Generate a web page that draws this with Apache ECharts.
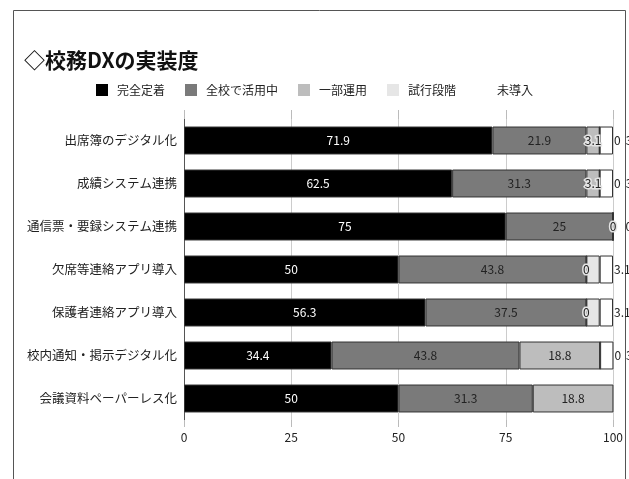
<!DOCTYPE html>
<html>
<head>
<meta charset="utf-8">
<script src="https://cdn.jsdelivr.net/npm/echarts@6/dist/echarts.min.js"></script>
<style>html,body{margin:0;padding:0;background:#fff;}#c{width:629px;height:479px;}</style>
</head>
<body>
<div id="c"></div>
<script>
const categories = ['出席簿のデジタル化','成績システム連携','通信票・要録システム連携','欠席等連絡アプリ導入','保護者連絡アプリ導入','校内通知・掲示デジタル化','会議資料ペーパーレス化'];
const seriesNames = ['完全定着','全校で活用中','一部運用','試行段階','未導入'];
const kanzen = [71.9, 62.5, 75, 50, 56.3, 34.4, 50];
const zenkou = [21.9, 31.3, 25, 43.8, 37.5, 43.8, 31.3];
const ichibu = [3.1, 3.1, 0, 0, 0, 18.8, 18.8];
const shikou = [0, 0, 0, 3.1, 3.1, 0, 0];
const midounyu = [3.1, 3.1, 0, 3.1, 3.1, 3.1, 0];
const xTicks = [0, 25, 50, 75, 100];
const colors = ['#000000', '#7a7a7a', '#bdbdbd', '#e6e6e6', '#ffffff'];

const FONT = 'Noto Sans CJK JP';
const values = [kanzen, zenkou, ichibu, shikou, midounyu];

function makeSeries(i) {
  const base = {
    name: seriesNames[i],
    type: 'bar',
    stack: 'total',
    barWidth: '65%',
    itemStyle: { color: colors[i], borderColor: '#333', borderWidth: 1 },
    emphasis: { disabled: true },
    data: values[i].slice()
  };
  if (i < 3) {
    base.data = values[i].map(v => {
      const small = v < 5;
      return {
        value: v,
        label: small ? { textBorderColor: '#e4e4e4', textBorderWidth: 3 } : {}
      };
    });
    base.label = {
      show: true, position: 'inside', fontSize: 12, fontFamily: FONT,
      color: i === 0 ? '#fff' : '#222'
    };
  } else if (i === 3) {
    base.label = { show: false };
  } else {
    base.label = {
      show: true, position: 'right', distance: 1, fontSize: 12, fontFamily: FONT, color: '#222',
      formatter: p => {
        const idx = p.dataIndex;
        if (midounyu[idx] > 0) return '{a|' + shikou[idx] + '}{g|}{b|' + midounyu[idx] + '}';
        return '{s|}{b|' + midounyu[idx] + '}';
      },
      rich: {
        a: { fontSize: 12, fontFamily: FONT, color: '#222' },
        b: { fontSize: 12, fontFamily: FONT, color: '#222' },
        g: { width: 5 },
        s: { width: 11 }
      }
    };
  }
  return base;
}

const chart = echarts.init(document.getElementById('c'), null, { renderer: 'canvas' });
chart.setOption({
  animation: false,
  backgroundColor: '#fff',
  graphic: [{
    type: 'rect', left: 11, top: 8, z: -10,
    shape: { width: 612, height: 520 },
    style: { fill: 'none', stroke: '#555', lineWidth: 1 }
  }],
  title: {
    text: '◇校務DXの実装度', left: 19, top: 45,
    textStyle: { fontSize: 21, fontWeight: 'bold', color: '#111', fontFamily: FONT }
  },
  legend: {
    top: 79, left: 'center', itemWidth: 12, itemHeight: 12, itemGap: 20,
    icon: 'rect',
    textStyle: { fontSize: 12, color: '#222', fontFamily: FONT, padding: [0, 0, 0, 4] },
    itemStyle: { borderWidth: 0 },
    data: seriesNames
  },
  grid: { left: 184, right: 16, top: 119, bottom: 59, containLabel: false },
  xAxis: [{
    type: 'value', min: 0, max: 100, interval: 25,
    axisLine: { show: false },
    axisTick: { show: true, length: 7, lineStyle: { color: '#bbb' } },
    axisLabel: { fontSize: 12, color: '#222', fontFamily: FONT, margin: 11,
      formatter: v => xTicks.includes(v) ? String(v) : '' },
    splitLine: { show: true, lineStyle: { color: '#cccccc', width: 1 } }
  }, {
    type: 'value', min: 0, max: 100, interval: 25, position: 'top',
    axisLine: { show: false },
    axisTick: { show: true, length: 9, lineStyle: { color: '#bbb' } },
    axisLabel: { show: false },
    splitLine: { show: false }
  }],
  yAxis: {
    type: 'category', inverse: true, data: categories,
    axisLine: { show: true, lineStyle: { color: '#555' } },
    axisTick: { show: false },
    axisLabel: { fontSize: 12.5, color: '#222', fontFamily: FONT, margin: 7 }
  },
  series: [0, 1, 2, 3, 4].map(makeSeries)
});
</script>
</body>
</html>
